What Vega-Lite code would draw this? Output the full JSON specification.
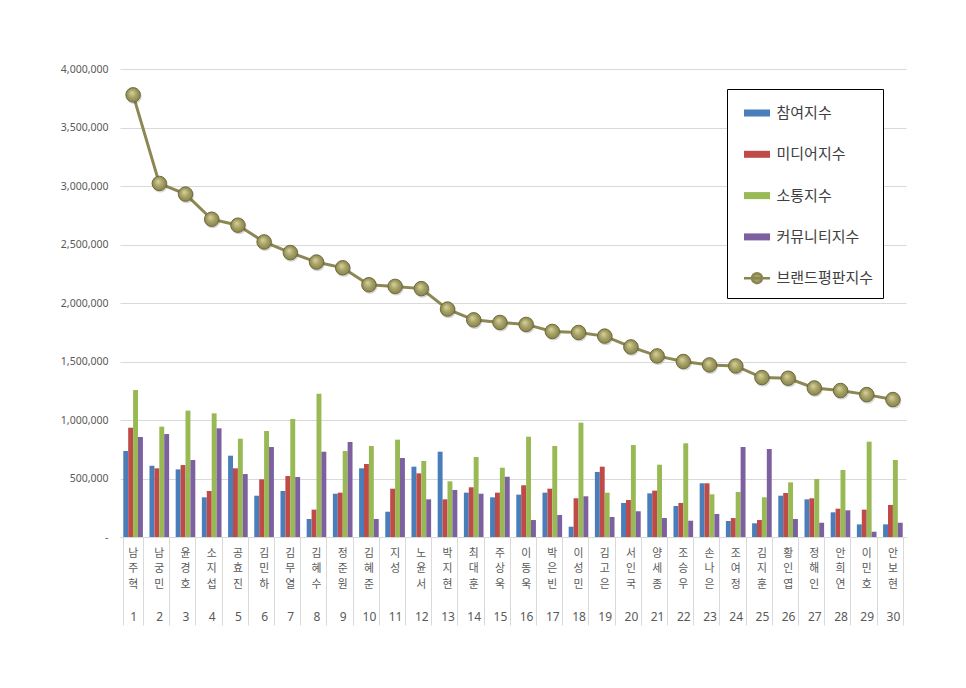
{
  "$schema": "https://vega.github.io/schema/vega-lite/v6.json",
  "width": 786,
  "height": 468,
  "autosize": {"type": "none"},
  "padding": {"left": 120, "top": 69, "right": 60, "bottom": 151},
  "background": "white",
  "data": {
    "values": [
      {"rank": 1, "name": "남주혁", "참여지수": 735000, "미디어지수": 934000, "소통지수": 1256000, "커뮤니티지수": 855000, "브랜드평판지수": 3779000},
      {"rank": 2, "name": "남궁민", "참여지수": 609000, "미디어지수": 587000, "소통지수": 943000, "커뮤니티지수": 880000, "브랜드평판지수": 3022000},
      {"rank": 3, "name": "윤경호", "참여지수": 578000, "미디어지수": 615000, "소통지수": 1080000, "커뮤니티지수": 658000, "브랜드평판지수": 2931000},
      {"rank": 4, "name": "소지섭", "참여지수": 339000, "미디어지수": 393000, "소통지수": 1057000, "커뮤니티지수": 929000, "브랜드평판지수": 2716000},
      {"rank": 5, "name": "공효진", "참여지수": 695000, "미디어지수": 587000, "소통지수": 840000, "커뮤니티지수": 538000, "브랜드평판지수": 2665000},
      {"rank": 6, "name": "김민하", "참여지수": 353000, "미디어지수": 493000, "소통지수": 906000, "커뮤니티지수": 769000, "브랜드평판지수": 2522000},
      {"rank": 7, "name": "김무열", "참여지수": 393000, "미디어지수": 521000, "소통지수": 1009000, "커뮤니티지수": 513000, "브랜드평판지수": 2431000},
      {"rank": 8, "name": "김혜수", "참여지수": 154000, "미디어지수": 234000, "소통지수": 1225000, "커뮤니티지수": 729000, "브랜드평판지수": 2350000},
      {"rank": 9, "name": "정준원", "참여지수": 370000, "미디어지수": 379000, "소통지수": 735000, "커뮤니티지수": 812000, "브랜드평판지수": 2301000},
      {"rank": 10, "name": "김혜준", "참여지수": 587000, "미디어지수": 624000, "소통지수": 778000, "커뮤니티지수": 154000, "브랜드평판지수": 2156000},
      {"rank": 11, "name": "지성", "참여지수": 216000, "미디어지수": 413000, "소통지수": 832000, "커뮤니티지수": 675000, "브랜드평판지수": 2142000},
      {"rank": 12, "name": "노윤서", "참여지수": 601000, "미디어지수": 544000, "소통지수": 650000, "커뮤니티지수": 322000, "브랜드평판지수": 2123000},
      {"rank": 13, "name": "박지현", "참여지수": 729000, "미디어지수": 322000, "소통지수": 476000, "커뮤니티지수": 402000, "브랜드평판지수": 1948000},
      {"rank": 14, "name": "최대훈", "참여지수": 379000, "미디어지수": 425000, "소통지수": 684000, "커뮤니티지수": 370000, "브랜드평판지수": 1856000},
      {"rank": 15, "name": "주상욱", "참여지수": 339000, "미디어지수": 379000, "소통지수": 592000, "커뮤니티지수": 515000, "브랜드평판지수": 1834000},
      {"rank": 16, "name": "이동욱", "참여지수": 362000, "미디어지수": 442000, "소통지수": 857000, "커뮤니티지수": 145000, "브랜드평판지수": 1817000},
      {"rank": 17, "name": "박은빈", "참여지수": 379000, "미디어지수": 413000, "소통지수": 778000, "커뮤니티지수": 188000, "브랜드평판지수": 1757000},
      {"rank": 18, "name": "이성민", "참여지수": 88000, "미디어지수": 331000, "소통지수": 977000, "커뮤니티지수": 348000, "브랜드평판지수": 1748000},
      {"rank": 19, "name": "김고은", "참여지수": 556000, "미디어지수": 601000, "소통지수": 379000, "커뮤니티지수": 171000, "브랜드평판지수": 1717000},
      {"rank": 20, "name": "서인국", "참여지수": 291000, "미디어지수": 316000, "소통지수": 786000, "커뮤니티지수": 220000, "브랜드평판지수": 1625000},
      {"rank": 21, "name": "양세종", "참여지수": 373000, "미디어지수": 396000, "소통지수": 618000, "커뮤니티지수": 162000, "브랜드평판지수": 1548000},
      {"rank": 22, "name": "조승우", "참여지수": 265000, "미디어지수": 291000, "소통지수": 801000, "커뮤니티지수": 139000, "브랜드평판지수": 1500000},
      {"rank": 23, "name": "손나은", "참여지수": 459000, "미디어지수": 459000, "소통지수": 365000, "커뮤니티지수": 197000, "브랜드평판지수": 1471000},
      {"rank": 24, "name": "조여정", "참여지수": 137000, "미디어지수": 162000, "소통지수": 385000, "커뮤니티지수": 769000, "브랜드평판지수": 1462000},
      {"rank": 25, "name": "김지훈", "참여지수": 117000, "미디어지수": 145000, "소통지수": 339000, "커뮤니티지수": 752000, "브랜드평판지수": 1363000},
      {"rank": 26, "name": "황인엽", "참여지수": 353000, "미디어지수": 376000, "소통지수": 467000, "커뮤니티지수": 154000, "브랜드평판지수": 1357000},
      {"rank": 27, "name": "정해인", "참여지수": 322000, "미디어지수": 331000, "소통지수": 496000, "커뮤니티지수": 122000, "브랜드평판지수": 1274000},
      {"rank": 28, "name": "안희연", "참여지수": 211000, "미디어지수": 242000, "소통지수": 573000, "커뮤니티지수": 228000, "브랜드평판지수": 1252000},
      {"rank": 29, "name": "이민호", "참여지수": 108000, "미디어지수": 234000, "소통지수": 815000, "커뮤니티지수": 45000, "브랜드평판지수": 1217000},
      {"rank": 30, "name": "안보현", "참여지수": 108000, "미디어지수": 274000, "소통지수": 658000, "커뮤니티지수": 122000, "브랜드평판지수": 1175000}
    ]
  },
  "transform": [
    {"fold": ["참여지수", "미디어지수", "소통지수", "커뮤니티지수", "브랜드평판지수"], "as": ["series", "value"]}
  ],
  "encoding": {
    "y": {
      "field": "value",
      "type": "quantitative",
      "scale": {"domain": [0, 4000000], "nice": false},
      "axis": {
        "title": null,
        "values": [0, 500000, 1000000, 1500000, 2000000, 2500000, 3000000, 3500000, 4000000],
        "labelExpr": "datum.value == 0 ? '-' : format(datum.value, ',')",
        "domain": false,
        "ticks": false,
        "grid": true,
        "gridColor": "#d9d9d9",
        "labelFont": "Noto Sans",
        "labelFontSize": 10.5,
        "labelColor": "#595959",
        "labelPadding": 12
      }
    }
  },
  "layer": [
    {
      "transform": [{"filter": "datum.series != '브랜드평판지수'"}],
      "mark": {"type": "bar"},
      "encoding": {
        "x": {
          "field": "name",
          "type": "nominal",
          "sort": {"field": "rank", "op": "min"},
          "scale": {"paddingInner": 0.25, "paddingOuter": 0.125},
          "axis": {
            "orient": "bottom",
            "title": null,
            "labelAngle": 0,
            "labelExpr": "substring(datum.value, 0, 1)",
            "labelFont": "Noto Sans CJK KR",
            "labelFontSize": 10.8,
            "labelBaseline": "middle",
            "labelColor": "#595959",
            "labelPadding": 16,
            "ticks": false,
            "domain": false
          }
        },
        "xOffset": {
          "field": "series",
          "type": "nominal",
          "scale": {"domain": ["참여지수", "미디어지수", "소통지수", "커뮤니티지수"]}
        },
        "color": {
          "field": "series",
          "type": "nominal",
          "scale": {
            "domain": ["참여지수", "미디어지수", "소통지수", "커뮤니티지수", "브랜드평판지수"],
            "range": ["#4a7ebb", "#be4b48", "#98b954", "#7d60a0", "#a39e63"]
          },
          "legend": {
            "title": null,
            "orient": "none",
            "legendX": 607,
            "legendY": 20,
            "strokeColor": "#000000",
            "fillColor": "#ffffff",
            "padding": 9.5,
            "symbolOffset": 6,
            "symbolSize": 676,
            "symbolType": "M-1,-0.27H1V0.27H-1Z",
            "symbolStrokeWidth": 0,
            "rowPadding": 17.3,
            "labelOffset": 5,
            "labelFont": "Noto Sans CJK KR",
            "labelFontSize": 15,
            "labelColor": "#404040",
            "labelLimit": 200,
            "encode": {
              "symbols": {
                "update": {
                  "shape": {"signal": "datum.value === '브랜드평판지수' ? 'M-1,0H1M0.38,0A0.38,0.38,0,1,1,-0.38,0A0.38,0.38,0,1,1,0.38,0Z' : 'M-1,-0.27H1V0.27H-1Z'"},
                  "stroke": {"signal": "datum.value === '브랜드평판지수' ? '#8a8450' : 'transparent'"},
                  "strokeWidth": {"value": 2.5}
                }
              }
            }
          }
        }
      }
    },
    {
      "transform": [{"filter": "datum.series == '브랜드평판지수'"}],
      "mark": {"type": "line", "color": "#8c8753", "strokeWidth": 3},
      "encoding": {
        "x": {
          "field": "name",
          "type": "nominal",
          "sort": {"field": "rank", "op": "min"},
          "axis": {
            "orient": "bottom",
            "title": null,
            "labelAngle": 0,
            "labelExpr": "substring(datum.value, 1, 2)",
            "labelFont": "Noto Sans CJK KR",
            "labelFontSize": 10.8,
            "labelBaseline": "middle",
            "labelColor": "#595959",
            "labelPadding": 31.8,
            "ticks": false,
            "domain": false
          }
        }
      }
    },
    {
      "transform": [{"filter": "datum.series == '브랜드평판지수'"}],
      "mark": {"type": "point", "filled": true, "size": 230, "opacity": 0.25, "color": "#555555", "yOffset": 1.5, "xOffset": 1},
      "encoding": {
        "x": {
          "field": "name",
          "type": "nominal",
          "sort": {"field": "rank", "op": "min"},
          "axis": {
            "orient": "bottom",
            "title": null,
            "labelAngle": 0,
            "labelExpr": "substring(datum.value, 2, 3)",
            "labelFont": "Noto Sans CJK KR",
            "labelFontSize": 10.8,
            "labelBaseline": "middle",
            "labelColor": "#595959",
            "labelPadding": 47.6,
            "ticks": false,
            "domain": false
          }
        }
      }
    },
    {
      "transform": [{"filter": "datum.series == '브랜드평판지수'"}],
      "mark": {
        "type": "point",
        "filled": true,
        "size": 210,
        "opacity": 1,
        "fill": {
          "gradient": "radial",
          "x1": 0.4, "y1": 0.35, "r1": 0,
          "x2": 0.5, "y2": 0.5, "r2": 0.55,
          "stops": [
            {"offset": 0, "color": "#d8d49c"},
            {"offset": 0.55, "color": "#a39e63"},
            {"offset": 1, "color": "#858046"}
          ]
        },
        "stroke": "#6f6a3c",
        "strokeWidth": 1
      },
      "encoding": {
        "x": {
          "field": "name",
          "type": "nominal",
          "sort": {"field": "rank", "op": "min"},
          "axis": {
            "orient": "bottom",
            "title": null,
            "labelAngle": 0,
            "labelExpr": "indexof(domain('x'), datum.value) < 0 ? '' : indexof(domain('x'), datum.value) + 1",
            "labelFont": "Noto Sans",
            "labelFontSize": 12,
            "labelBaseline": "middle",
            "labelColor": "#595959",
            "labelPadding": -8.5,
            "ticks": true,
            "tickBand": "extent",
            "tickSize": 88,
            "tickColor": "#d9d9d9",
            "domain": true,
            "domainColor": "#d9d9d9"
          }
        }
      }
    }
  ],
  "resolve": {"axis": {"x": "independent"}},
  "config": {
    "view": {"stroke": null}
  }
}
